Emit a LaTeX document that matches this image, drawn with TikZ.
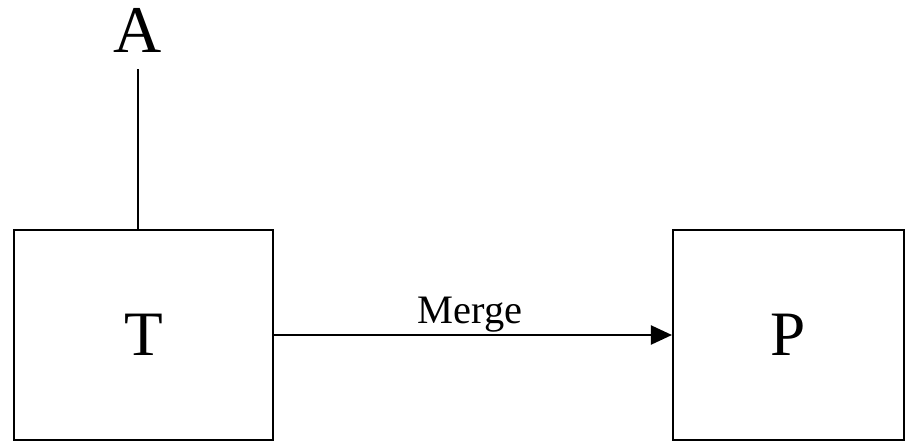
\documentclass[tikz,border=0pt]{standalone}
\usepackage{fontspec}
\setmainfont{Liberation Serif}
\usetikzlibrary{positioning, arrows.meta}

\begin{document}
\begin{tikzpicture}[
        x=0.02cm, y=-0.02cm,
        block/.style={rectangle, draw=black, line width=1.2pt, inner sep=0pt, font=\fontsize{36}{40}\selectfont},
        label/.style={draw=none, inner sep=0pt},
        link/.style={line width=1.2pt},
        msg/.style={-{Triangle[length=0.42cm, width=0.38cm]}, line width=1.2pt}
    ]
        \useasboundingbox (0,0) rectangle (916,443);

        % Blocks
        \node[block, minimum width=5.18cm, minimum height=4.2cm] (t) at (143.5,335) {T};
        \node[block, minimum width=4.62cm, minimum height=4.2cm] (p) at (788.5,335) {P};

        % Top label
        \node[label, anchor=base, font=\fontsize{38}{42}\selectfont] (a) at (138,52) {A};
        \coordinate (atop) at (138,69);

        % Links
        \draw[link] (t.north -| atop) -- (atop);
        \draw[msg] (t.east) -- (p.west) node[midway, anchor=base, yshift=0.24cm, xshift=-0.06cm, font=\fontsize{23}{27}\selectfont] (merge) {Merge};
    \end{tikzpicture}
\end{document}
